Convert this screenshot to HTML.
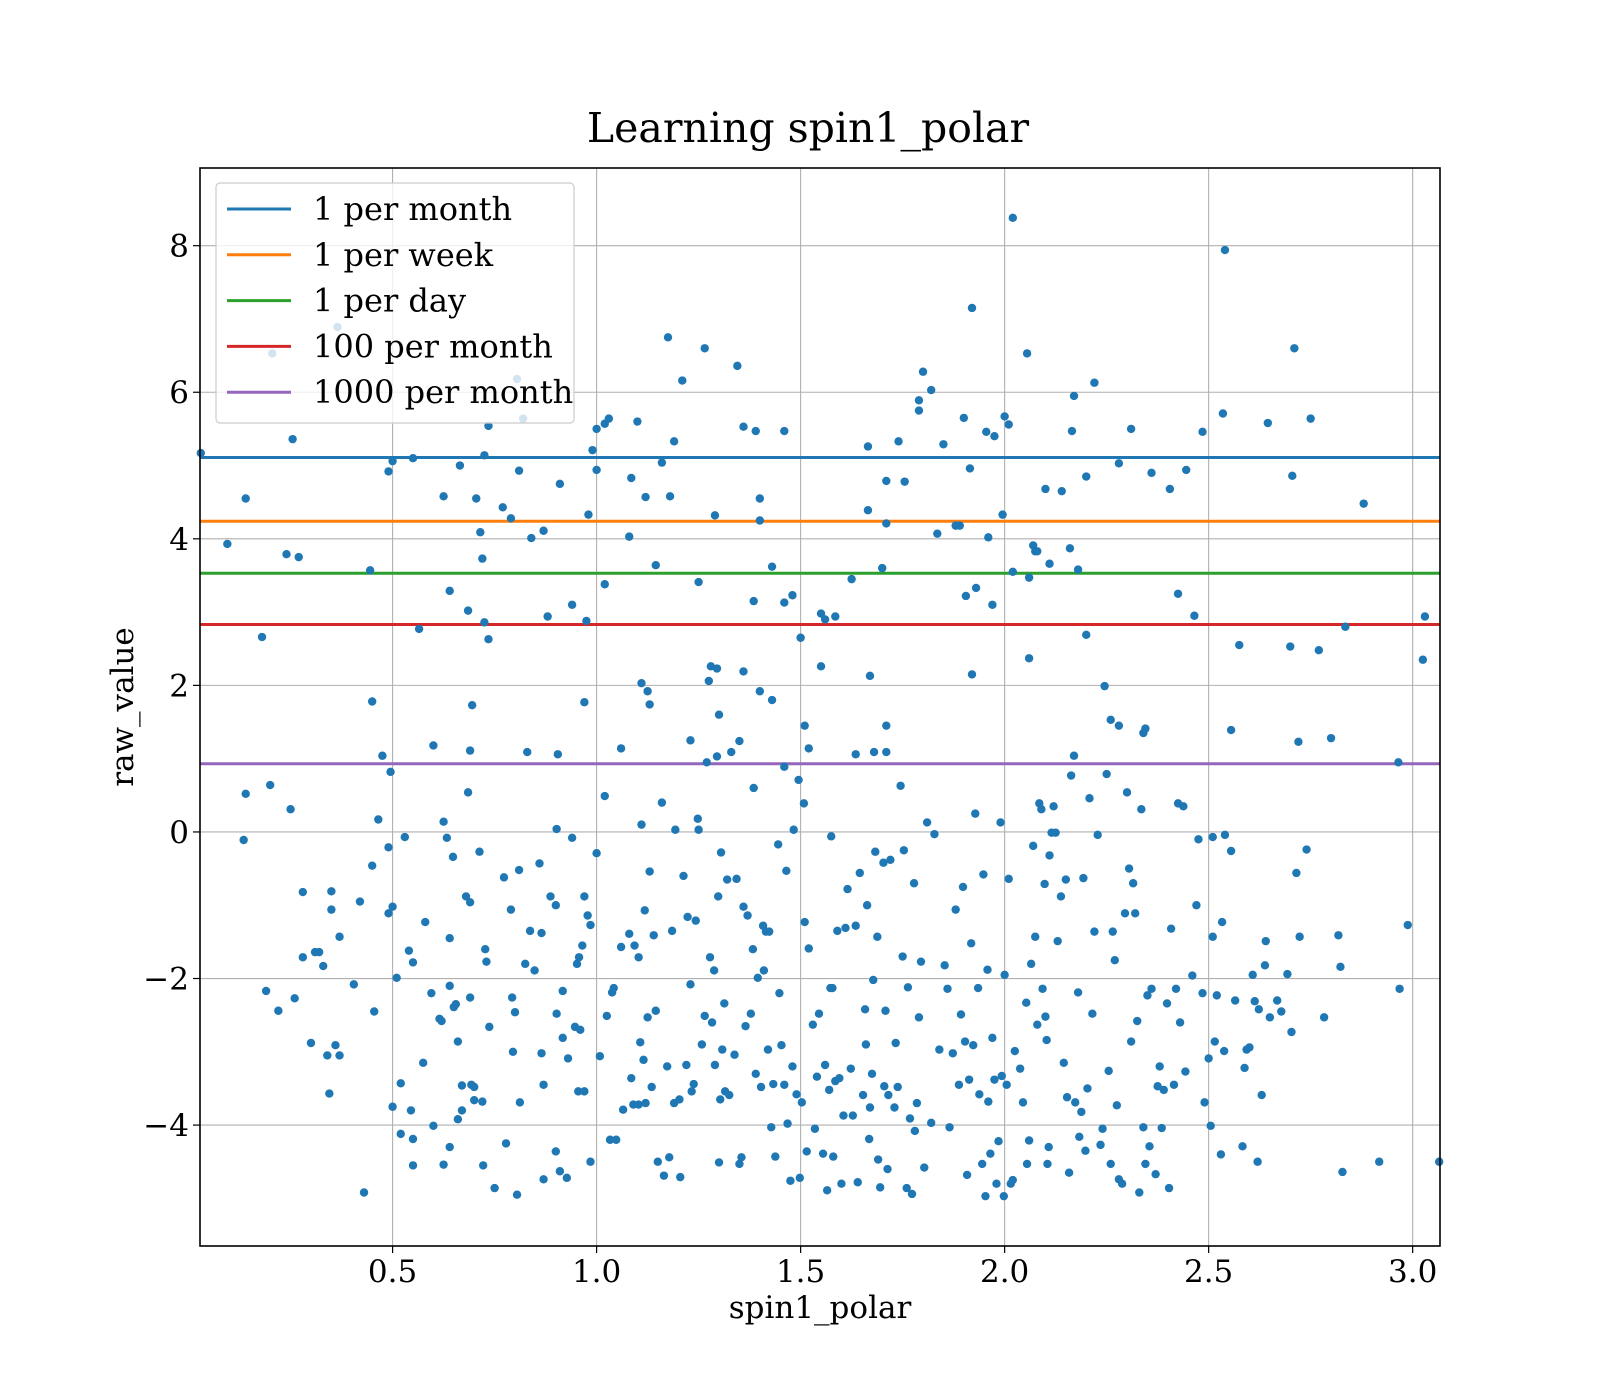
<!DOCTYPE html>
<html><head><meta charset="utf-8"><title>Learning spin1_polar</title>
<style>html,body{margin:0;padding:0;background:#fff}svg{display:block;font-family:"DejaVu Serif","Liberation Serif",serif}</style>
</head><body>
<svg id="chart" width="1600" height="1400" viewBox="0 0 1600 1400" xmlns="http://www.w3.org/2000/svg">
<rect width="1600" height="1400" fill="#fff"/>
<text x="808" y="142" font-size="41" text-anchor="middle">Learning spin1_polar</text>
<g id="grid"></g><g id="hlines"></g><g id="pts"></g>
<rect x="200" y="168" width="1240" height="1078" fill="none" stroke="#000" stroke-width="1.6"/>
<g id="ticks"></g>
<text x="820" y="1318" font-size="31" text-anchor="middle">spin1_polar</text>
<text transform="translate(133,707) rotate(-90)" font-size="31" text-anchor="middle">raw_value</text>
<g id="legend"></g>
</svg>
<script>
const xTicks=[0.5,1.0,1.5,2.0,2.5,3.0];
const xTickLabels=["0.5","1.0","1.5","2.0","2.5","3.0"];
const yTicks=[-4,-2,0,2,4,6,8];
const yTickLabels=["\u22124","\u22122","0","2","4","6","8"];
const seriesNames=["1 per month","1 per week","1 per day","100 per month","1000 per month"];
const thresholds=[5.11,4.24,3.53,2.83,0.93];
const seriesColors=["#1f77b4","#ff7f0e","#2ca02c","#d62728","#9467bd"];
const samples=[[0.03,5.17],[0.095,3.93],[0.14,4.55],[0.205,6.53],[0.255,5.36],[0.24,3.79],[0.27,3.75],[0.18,2.66],[0.365,6.89],[0.445,3.57],[0.45,1.78],[0.475,1.04],[0.495,0.82],[0.49,4.92],[0.5,5.06],[0.55,5.1],[0.565,2.77],[0.625,4.58],[0.64,3.29],[0.665,5.0],[0.685,3.02],[0.695,1.73],[0.69,1.11],[0.705,4.55],[0.715,4.09],[0.72,3.73],[0.725,5.14],[0.725,2.86],[0.735,2.63],[0.735,5.54],[0.805,6.18],[0.82,5.64],[0.81,4.93],[0.77,4.43],[0.79,4.28],[0.83,1.09],[0.84,4.01],[0.87,4.11],[0.88,2.94],[0.905,1.06],[0.91,4.75],[0.94,3.1],[0.97,1.77],[0.975,2.88],[0.98,4.33],[0.99,5.21],[1.0,5.5],[1.0,4.94],[1.0,-0.29],[1.02,5.57],[1.03,5.64],[1.02,3.38],[1.02,0.49],[1.06,1.14],[1.08,4.03],[1.085,4.83],[1.1,5.6],[1.11,2.03],[1.12,4.57],[1.125,1.92],[1.13,1.74],[1.145,3.64],[1.16,5.04],[1.175,6.75],[1.18,4.58],[1.19,5.33],[1.21,6.16],[1.23,1.25],[1.25,3.41],[1.265,6.6],[1.275,2.06],[1.28,2.26],[1.295,2.23],[1.29,4.32],[1.3,1.6],[1.27,0.95],[1.295,1.03],[1.345,6.36],[1.35,1.24],[1.33,1.09],[1.36,5.53],[1.36,2.19],[1.39,5.47],[1.4,4.55],[1.4,4.25],[1.385,3.15],[1.4,1.92],[1.43,3.62],[1.43,1.8],[1.46,5.47],[1.46,3.13],[1.48,3.23],[1.46,0.89],[1.5,2.65],[1.51,1.45],[1.52,1.14],[1.55,2.98],[1.56,2.9],[1.585,2.94],[1.55,2.26],[1.625,3.45],[1.635,1.06],[1.665,5.26],[1.665,4.39],[1.67,2.13],[1.68,1.09],[1.7,3.6],[1.71,4.79],[1.71,4.21],[1.71,1.45],[1.71,1.09],[1.74,5.33],[1.755,4.78],[1.79,5.75],[1.79,5.89],[1.8,6.28],[1.82,6.03],[1.835,4.07],[1.85,5.29],[1.88,4.18],[1.89,4.18],[1.9,5.65],[1.915,4.96],[1.92,7.15],[1.905,3.22],[1.93,3.33],[1.92,2.15],[1.955,5.46],[1.975,5.4],[1.96,4.02],[1.97,3.1],[1.995,4.33],[2.0,5.67],[2.01,5.56],[2.02,8.38],[2.02,3.55],[2.055,6.53],[2.06,3.47],[2.06,2.37],[2.07,3.91],[2.075,3.83],[2.08,3.83],[2.1,4.68],[2.11,3.66],[2.14,4.65],[2.16,3.87],[2.17,5.95],[2.165,5.47],[2.18,3.58],[2.2,4.85],[2.2,2.69],[2.22,6.13],[2.17,1.04],[2.245,1.99],[2.26,1.53],[2.28,1.45],[2.28,5.03],[2.31,5.5],[2.34,1.35],[2.345,1.41],[2.36,4.9],[2.405,4.68],[2.425,3.25],[2.445,4.94],[2.465,2.95],[2.485,5.46],[2.535,5.71],[2.54,7.94],[2.555,1.39],[2.575,2.55],[2.645,5.58],[2.7,2.53],[2.705,4.86],[2.71,6.6],[2.72,1.23],[2.75,5.64],[2.77,2.48],[2.8,1.28],[2.835,2.8],[2.88,4.48],[2.965,0.95],[3.025,2.35],[3.03,2.94],
[0.135,-0.11],[0.14,0.52],[0.2,0.64],[0.25,0.31],[0.19,-2.17],[0.22,-2.44],[0.26,-2.27],[0.28,-0.82],[0.28,-1.71],[0.3,-2.88],[0.31,-1.64],[0.32,-1.64],[0.33,-1.83],[0.34,-3.05],[0.345,-3.57],[0.35,-0.81],[0.35,-1.06],[0.36,-2.91],[0.37,-1.43],[0.37,-3.05],[0.405,-2.08],[0.42,-0.95],[0.43,-4.92],[0.45,-0.46],[0.455,-2.45],[0.465,0.17],[0.49,-0.21],[0.49,-1.11],[0.5,-1.02],[0.5,-3.75],[0.51,-1.99],[0.52,-4.12],[0.52,-3.43],[0.53,-0.07],[0.54,-1.62],[0.545,-3.8],[0.55,-4.55],[0.55,-4.19],[0.55,-1.78],[0.575,-3.15],[0.58,-1.23],[0.595,-2.2],[0.6,-4.01],[0.6,1.18],[0.615,-2.55],[0.62,-2.58],[0.625,0.14],[0.625,-4.54],[0.633,-0.08],[0.64,-4.3],[0.64,-1.45],[0.64,-2.1],[0.648,-0.34],[0.65,-2.39],[0.655,-2.35],[0.66,-2.86],[0.66,-3.92],[0.67,-3.46],[0.67,-3.8],[0.68,-0.88],[0.685,0.54],[0.69,-0.96],[0.69,-2.26],[0.693,-3.45],[0.7,-3.48],[0.7,-3.66],[0.713,-0.27],[0.72,-3.68],[0.722,-4.55],[0.727,-1.6],[0.73,-1.77],[0.737,-2.66],[0.75,-4.86],[0.773,-0.62],[0.778,-4.25],[0.79,-1.06],[0.793,-2.26],[0.795,-3.0],[0.8,-2.46],[0.805,-4.95],[0.81,-0.52],[0.812,-3.69],[0.825,-1.8],[0.837,-1.35],[0.848,-1.89],[0.86,-0.43],[0.865,-1.38],[0.865,-3.02],[0.87,-3.45],[0.87,-4.74],[0.887,-0.88],[0.9,-1.0],[0.9,-4.36],[0.902,-2.48],[0.902,0.04],[0.91,-4.63],[0.917,-2.81],[0.917,-2.17],[0.927,-4.72],[0.93,-3.09],[0.94,-0.08],[0.947,-2.66],[0.952,-1.8],[0.955,-3.54],[0.957,-1.71],[0.96,-2.7],[0.965,-1.55],[0.97,-0.88],[0.97,-3.54],[0.978,-1.14],[0.985,-4.5],[0.985,-1.27],[1.008,-3.06],[1.025,-2.51],[1.033,-4.2],[1.038,-2.19],[1.042,-2.13],[1.048,-4.2],[1.06,-1.57],[1.065,-3.79],[1.08,-1.39],[1.085,-3.36],[1.09,-3.72],[1.093,-1.55],[1.103,-3.72],[1.103,-1.71],[1.107,-2.87],[1.11,0.1],[1.115,-3.11],[1.118,-1.07],[1.12,-3.7],[1.13,-0.54],[1.125,-2.53],[1.135,-3.48],[1.14,-1.41],[1.145,-2.44],[1.15,-4.5],[1.16,0.4],[1.165,-4.69],[1.173,-3.2],[1.178,-4.44],[1.185,-1.35],[1.19,-3.7],[1.193,0.03],[1.203,-3.65],[1.205,-4.71],[1.213,-0.6],[1.22,-3.18],[1.223,-1.16],[1.23,-2.08],[1.233,-3.54],[1.238,-3.44],[1.243,-1.21],[1.248,0.18],[1.25,0.03],[1.258,-2.9],[1.265,-2.51],[1.278,-1.71],[1.283,-2.6],[1.288,-1.89],[1.29,-3.18],[1.298,-0.88],[1.3,-4.51],[1.303,-3.65],[1.305,-0.28],[1.308,-2.97],[1.313,-2.34],[1.315,-3.54],[1.32,-0.65],[1.325,-3.59],[1.338,-3.04],[1.343,-0.64],[1.35,-4.53],[1.355,-4.44],[1.36,-1.02],[1.365,-2.65],[1.37,-1.14],[1.378,-2.48],[1.383,-1.6],[1.385,0.6],[1.39,-3.3],[1.395,-1.99],[1.403,-3.48],[1.408,-1.28],[1.41,-1.89],[1.415,-1.36],[1.42,-2.97],[1.423,-1.36],[1.428,-4.03],[1.433,-3.44],[1.438,-4.43],[1.445,-0.17],[1.448,-2.2],[1.453,-2.91],[1.46,-3.45],[1.465,-0.53],[1.468,-3.98],[1.475,-4.76],[1.48,-3.2],[1.483,0.03],[1.49,-3.58],[1.495,0.71],[1.498,-4.72],[1.503,-3.69],[1.508,0.39],[1.51,-1.23],[1.515,-4.36],[1.52,-1.59],[1.53,-2.63],[1.535,-4.05],[1.54,-3.34],[1.545,-2.48],[1.555,-4.39],[1.56,-3.18],[1.565,-4.89],[1.57,-3.52],[1.573,-2.13],[1.575,-0.06],[1.578,-2.13],[1.58,-4.43],[1.585,-3.4],[1.59,-1.35],[1.595,-3.36],[1.6,-4.8],[1.605,-3.87],[1.61,-1.31],[1.615,-0.78],[1.623,-3.23],[1.628,-3.87],[1.635,-1.28],[1.64,-4.78],[1.645,-0.56],[1.653,-3.59],[1.658,-2.42],[1.66,-2.9],[1.663,-1.0],[1.668,-4.19],[1.67,-3.76],[1.675,-3.3],[1.678,-2.02],[1.683,-0.27],[1.688,-1.43],[1.69,-4.47],[1.695,-4.85],[1.703,-0.42],[1.705,-3.47],[1.708,-2.44],[1.713,-4.6],[1.715,-3.59],[1.72,-0.38],[1.73,-3.76],[1.733,-2.88],[1.738,-3.48],[1.745,0.63],[1.75,-1.7],[1.753,-0.25],[1.76,-4.86],[1.763,-2.12],[1.768,-3.91],[1.773,-4.94],[1.778,-0.7],[1.78,-4.08],[1.785,-3.7],[1.79,-2.53],[1.795,-1.77],[1.803,-4.58],[1.81,0.13],[1.82,-3.97],[1.828,-0.03],[1.84,-2.97],[1.853,-1.82],[1.86,-2.14],[1.865,-4.03],[1.873,-3.02],[1.88,-1.06],[1.888,-3.45],[1.893,-2.49],[1.898,-0.75],[1.903,-2.86],[1.908,-4.68],[1.913,-3.38],[1.918,-1.52],[1.923,-2.91],[1.928,0.25],[1.935,-2.13],[1.938,-3.58],[1.945,-4.53],[1.948,-0.58],[1.953,-4.97],[1.958,-1.88],[1.96,-3.68],[1.965,-4.39],[1.97,-2.81],[1.975,-3.38],[1.98,-4.8],[1.985,-4.22],[1.99,0.13],[1.993,-3.33],[1.998,-4.97],[2.0,-1.95],[2.005,-3.45],[2.01,-0.64],[2.015,-4.8],[2.02,-4.75],[2.025,-2.99],[2.038,-3.23],[2.045,-3.69],[2.053,-2.33],[2.055,-4.53],[2.06,-4.21],[2.065,-1.8],[2.07,-0.19],[2.075,-1.43],[2.08,-2.63],[2.085,0.39],[2.09,0.31],[2.093,-2.14],[2.098,-0.71],[2.1,-2.52],[2.103,-2.84],[2.105,-4.53],[2.108,-4.3],[2.11,-0.32],[2.115,-0.01],[2.12,0.35],[2.125,-0.01],[2.13,-1.49],[2.138,-0.88],[2.145,-3.15],[2.15,-0.65],[2.153,-3.62],[2.158,-4.65],[2.163,0.77],[2.173,-3.69],[2.18,-2.19],[2.183,-4.16],[2.188,-3.82],[2.193,-0.63],[2.198,-4.35],[2.203,-3.5],[2.208,0.46],[2.215,-2.48],[2.22,-1.36],[2.228,-0.04],[2.235,-4.27],[2.24,-4.05],[2.25,0.79],[2.255,-3.26],[2.26,-4.53],[2.265,-1.36],[2.27,-1.75],[2.275,-3.73],[2.28,-4.74],[2.288,-4.8],[2.295,-1.11],[2.3,0.54],[2.305,-0.5],[2.31,-2.86],[2.315,-0.7],[2.32,-1.11],[2.325,-2.58],[2.33,-4.92],[2.335,0.31],[2.34,-4.03],[2.345,-4.53],[2.35,-2.23],[2.355,-4.29],[2.36,-2.14],[2.37,-4.67],[2.375,-3.47],[2.38,-3.2],[2.385,-4.04],[2.39,-3.52],[2.398,-2.34],[2.403,-4.86],[2.408,-1.32],[2.415,-3.45],[2.42,-2.14],[2.425,0.39],[2.43,-2.6],[2.438,0.35],[2.443,-3.27],[2.46,-1.96],[2.47,-1.0],[2.475,-0.1],[2.485,-2.2],[2.49,-3.69],[2.5,-3.09],[2.505,-4.01],[2.51,-0.07],[2.51,-1.43],[2.515,-2.86],[2.52,-2.23],[2.53,-4.4],[2.533,-1.23],[2.538,-2.99],[2.54,-0.04],[2.555,-0.26],[2.565,-2.3],[2.583,-4.29],[2.588,-3.22],[2.593,-2.97],[2.6,-2.94],[2.608,-1.95],[2.613,-2.31],[2.62,-4.5],[2.623,-2.42],[2.63,-3.59],[2.638,-1.82],[2.64,-1.49],[2.65,-2.53],[2.668,-2.3],[2.678,-2.45],[2.693,-1.94],[2.703,-2.73],[2.715,-0.56],[2.723,-1.43],[2.74,-0.24],[2.783,-2.53],[2.818,-1.41],[2.823,-1.84],[2.828,-4.64],[2.918,-4.5],[2.968,-2.14],[2.988,-1.27],[3.065,-4.5]];
const X0=200,X1=1440,Y0=168,Y1=1246,XMIN=0.028,XMAX=3.067,YMIN=-5.65,YMAX=9.06;
function sx(v){return X0+(v-XMIN)/(XMAX-XMIN)*(X1-X0);}
function sy(v){return Y1-(v-YMIN)/(YMAX-YMIN)*(Y1-Y0);}
const NS="http://www.w3.org/2000/svg";
function mk(tag,parent,attrs){const e=document.createElementNS(NS,tag);for(const k in attrs)e.setAttribute(k,attrs[k]);parent.appendChild(e);return e;}
const grid=document.getElementById('grid'),ticks=document.getElementById('ticks');
xTicks.forEach((v,i)=>{const x=sx(v);
 const g=mk('line',grid,{x1:x,x2:x,y1:Y0,y2:Y1,stroke:'#b0b0b0','stroke-width':1.1});
 
 
 const t=mk('line',ticks,{x1:x,x2:x,y1:Y1,y2:Y1+7,stroke:'#000','stroke-width':1.2});
 
 
 const l=mk('text',ticks,{x:x,y:Y1+36,'font-size':31,'text-anchor':'middle'});l.textContent=xTickLabels[i];
 
 
});
yTicks.forEach((v,i)=>{const y=sy(v);
 const g=mk('line',grid,{x1:X0,x2:X1,y1:y,y2:y,stroke:'#b0b0b0','stroke-width':1.1});
 
 
 const t=mk('line',ticks,{x1:X0-7,x2:X0,y1:y,y2:y,stroke:'#000','stroke-width':1.2});
 
 
 const l=mk('text',ticks,{x:X0-11,y:y+11,'font-size':31,'text-anchor':'end'});l.textContent=yTickLabels[i];
 
 
});
const pts=document.getElementById('pts');
samples.forEach(p=>{if(p[0]<XMIN||p[0]>XMAX)return;
 const c=mk('circle',pts,{cx:sx(p[0]),cy:sy(p[1]),r:4.2,fill:'#1f77b4'});
 
 
});
const hl=document.getElementById('hlines');
thresholds.forEach((v,i)=>{
 const l=mk('line',hl,{x1:X0,x2:X1,y1:sy(v),y2:sy(v),stroke:seriesColors[i],'stroke-width':3});
 
 
});
const lg=document.getElementById('legend');
const box=mk('rect',lg,{x:216,y:183,width:358,height:240,rx:4,fill:'#fff','fill-opacity':0.8,stroke:'#ccc','stroke-width':1.2});


seriesNames.forEach((n,i)=>{const y=209+i*45.8;
 const l=mk('line',lg,{x1:227,x2:291,y1:y,y2:y,stroke:seriesColors[i],'stroke-width':3});
 
 
 const t=mk('text',lg,{x:313,y:y+11,'font-size':32});t.textContent=n;
 
 
});
</script>
</body></html>
